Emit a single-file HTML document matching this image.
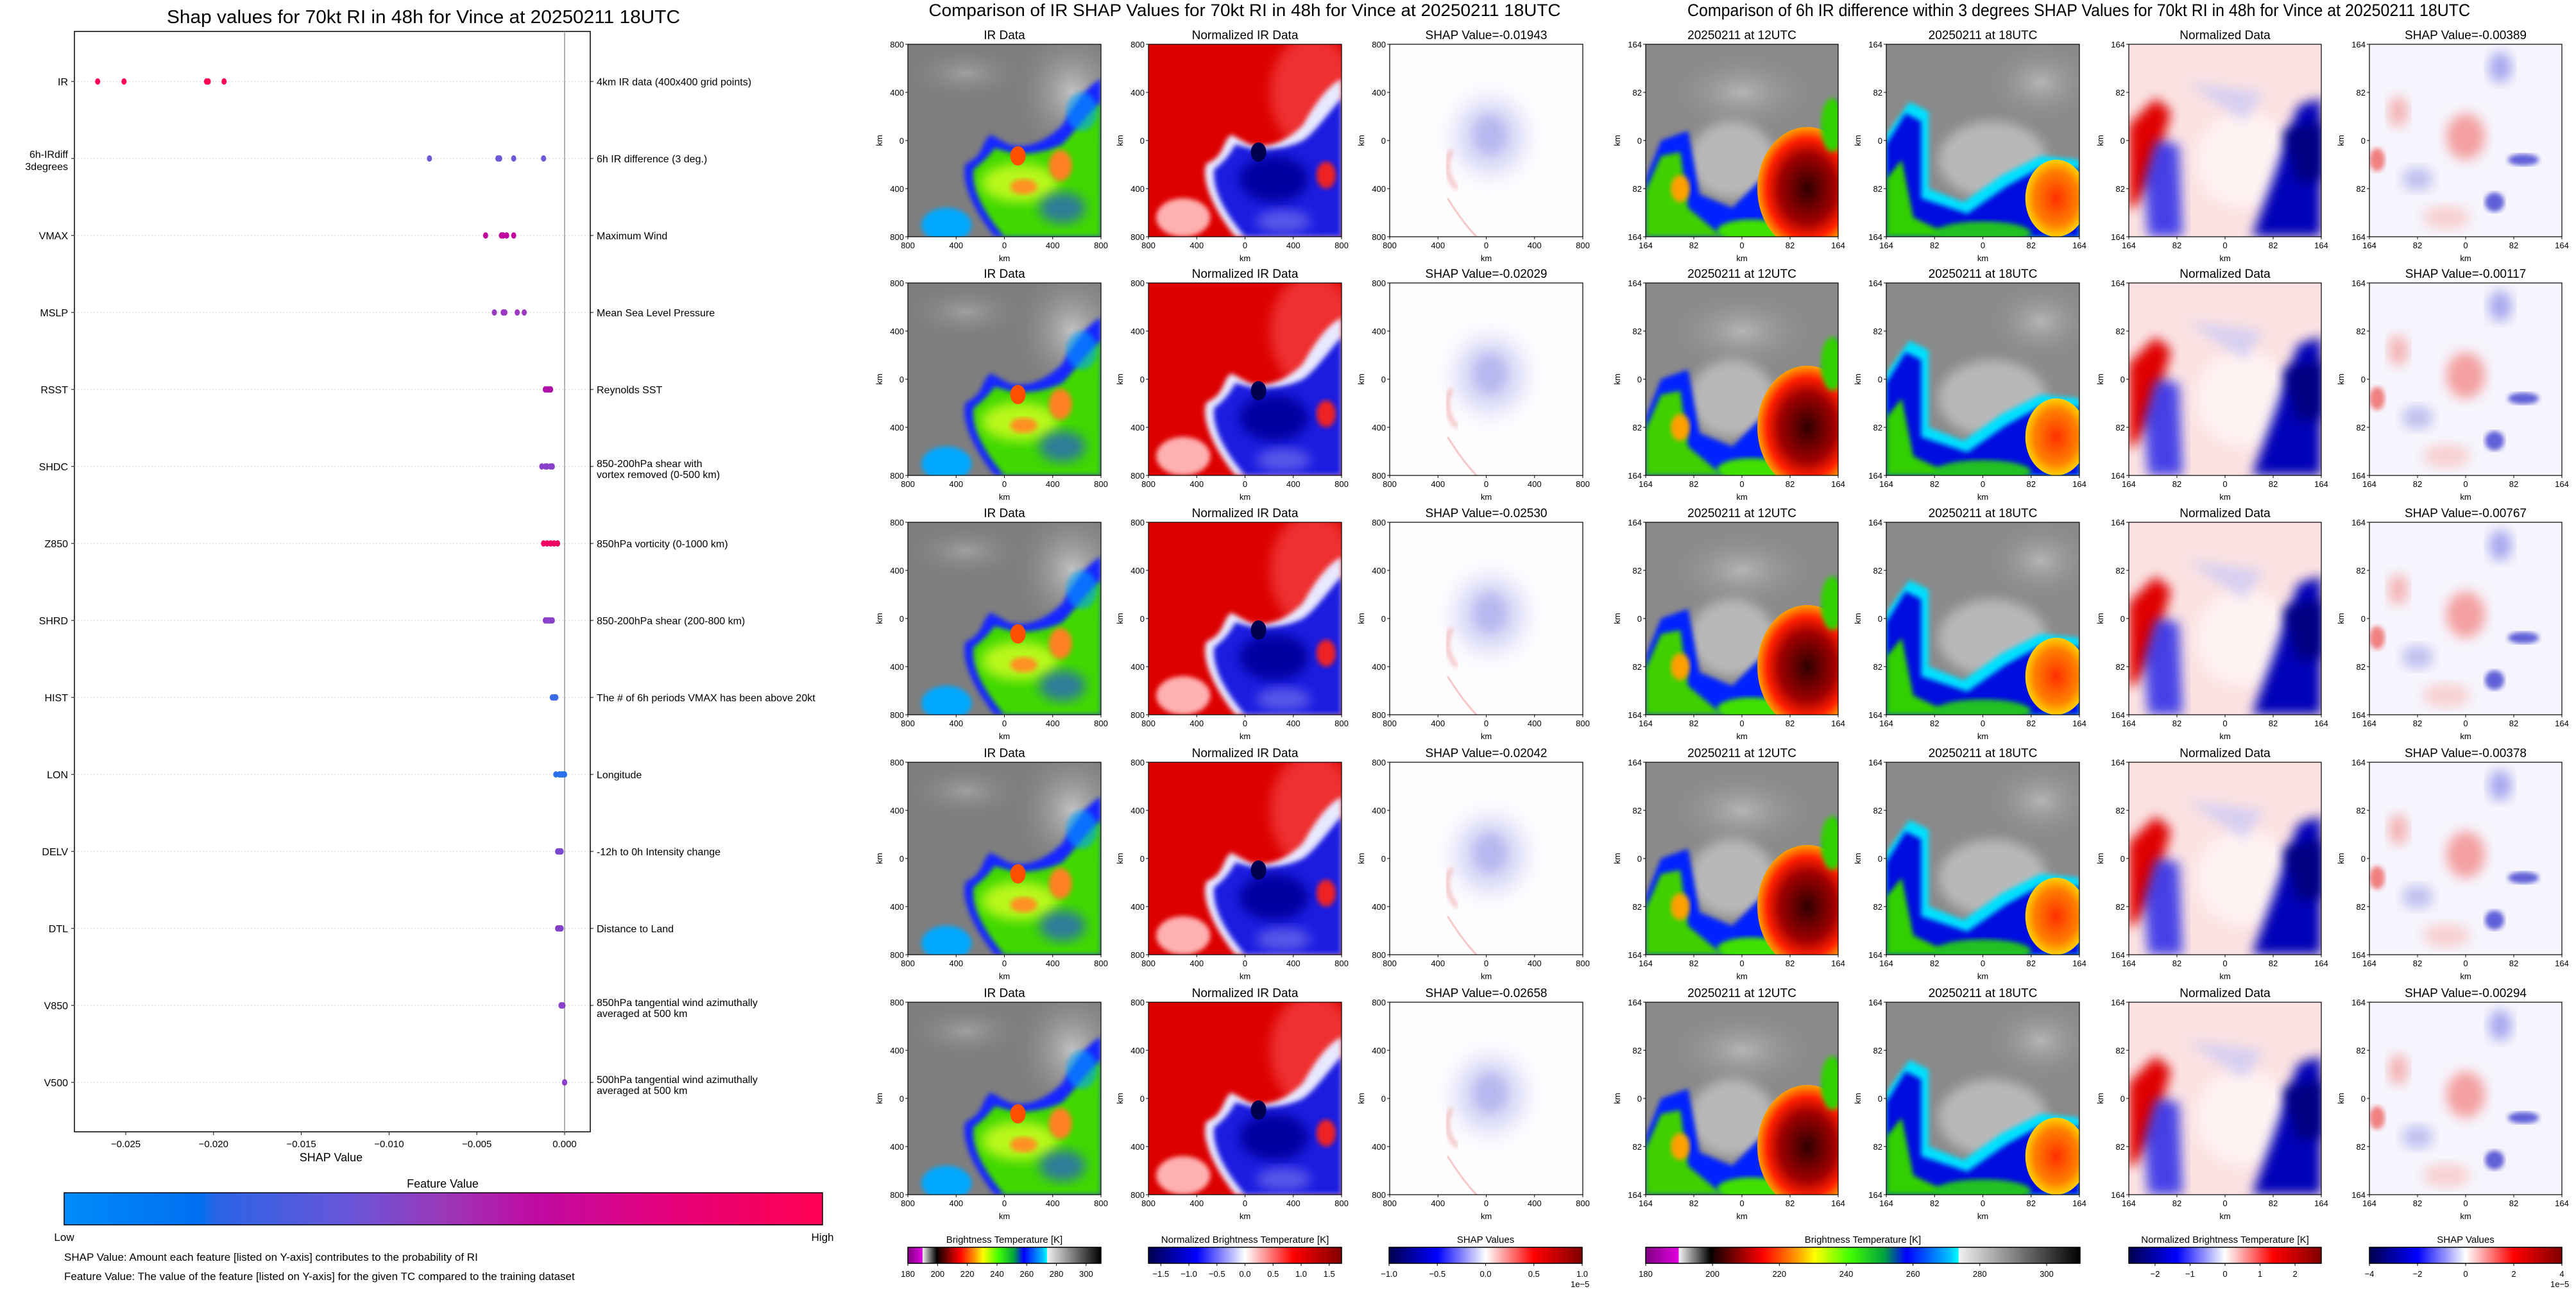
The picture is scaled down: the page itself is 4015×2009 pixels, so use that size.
<!DOCTYPE html>
<html><head><meta charset="utf-8"><style>
html,body{margin:0;padding:0;background:#fff;}
svg{display:block;font-family:"Liberation Sans",sans-serif;}
</style></head><body>
<svg id="fig" width="4015" height="2009" viewBox="0 0 4015 2009" xmlns="http://www.w3.org/2000/svg">
<defs>
<filter id="blur2" x="-10%" y="-10%" width="120%" height="120%"><feGaussianBlur stdDeviation="1.2"/></filter>
<filter id="blur4" x="-20%" y="-20%" width="140%" height="140%"><feGaussianBlur stdDeviation="3"/></filter>
<linearGradient id="featGrad" x1="0" x2="1" y1="0" y2="0">
<stop offset="0" stop-color="#008bfb"/><stop offset="0.18" stop-color="#006ff0"/><stop offset="0.2" stop-color="#2a64e6"/>
<stop offset="0.38" stop-color="#6a55d8"/><stop offset="0.5" stop-color="#9a38b8"/><stop offset="0.62" stop-color="#bf0aa2"/>
<stop offset="0.8" stop-color="#e5007a"/><stop offset="1" stop-color="#ff0052"/></linearGradient>
<linearGradient id="btGrad" x1="0" x2="1" y1="0" y2="0">
<stop offset="0" stop-color="#800080"/><stop offset="0.075" stop-color="#e000e0"/><stop offset="0.077" stop-color="#f0f0f0"/>
<stop offset="0.15" stop-color="#000"/><stop offset="0.16" stop-color="#200000"/><stop offset="0.27" stop-color="#ff0000"/>
<stop offset="0.35" stop-color="#ffa000"/><stop offset="0.39" stop-color="#ffff00"/><stop offset="0.47" stop-color="#40ff00"/>
<stop offset="0.55" stop-color="#00a040"/><stop offset="0.6" stop-color="#0000ff"/><stop offset="0.7" stop-color="#00c0ff"/>
<stop offset="0.72" stop-color="#00ffff"/><stop offset="0.721" stop-color="#f0f0f0"/><stop offset="1" stop-color="#000"/></linearGradient>
<linearGradient id="seisGrad" x1="0" x2="1" y1="0" y2="0">
<stop offset="0" stop-color="#00004c"/><stop offset="0.25" stop-color="#0000ff"/><stop offset="0.5" stop-color="#ffffff"/>
<stop offset="0.75" stop-color="#ff0000"/><stop offset="1" stop-color="#800000"/></linearGradient>
<radialGradient id="shapBlue"><stop offset="0" stop-color="#a8a8ee"/><stop offset="0.5" stop-color="#d6d6f6"/><stop offset="1" stop-color="#ffffff" stop-opacity="0"/></radialGradient>
<radialGradient id="darkRed"><stop offset="0" stop-color="#300000"/><stop offset="0.55" stop-color="#a00000"/><stop offset="0.8" stop-color="#ff2000"/><stop offset="1" stop-color="#ffa000"/></radialGradient>
<radialGradient id="orangeBlob"><stop offset="0" stop-color="#ff3000"/><stop offset="0.7" stop-color="#ff8000"/><stop offset="1" stop-color="#ffd000"/></radialGradient>
<radialGradient id="lightGray"><stop offset="0" stop-color="#e0e0e0"/><stop offset="1" stop-color="#8a8a8a" stop-opacity="0"/></radialGradient>

<symbol id="symIR" viewBox="0 0 100 100" preserveAspectRatio="none">
<rect width="100" height="100" fill="#7e7e7e"/>
<ellipse cx="85" cy="25" rx="30" ry="35" fill="url(#lightGray)" opacity="0.7"/>
<ellipse cx="30" cy="15" rx="30" ry="14" fill="url(#lightGray)" opacity="0.35"/>
<path d="M43,47 C38,50 40,58 30,62 C27,70 33,85 45,100 L100,100 L100,18 C92,22 85,33 80,42 C72,50 62,55 52,52 Z" fill="#1428ff" filter="url(#blur2)"/>
<path d="M45,54 C42,58 38,62 34,65 C33,74 38,86 50,100 L100,100 L100,30 C93,36 86,46 80,52 C72,56 60,58 52,56 Z" fill="#40d800" filter="url(#blur2)"/>
<ellipse cx="58" cy="72" rx="20" ry="10" fill="#d8ff20" opacity="0.8" filter="url(#blur4)"/>
<ellipse cx="57" cy="58" rx="4" ry="5" fill="#ff5000"/>
<ellipse cx="79" cy="63" rx="6" ry="8" fill="#ff8020" filter="url(#blur2)"/>
<ellipse cx="60" cy="74" rx="7" ry="4" fill="#ff9020" filter="url(#blur2)"/>
<ellipse cx="80" cy="85" rx="12" ry="8" fill="#2040ff" opacity="0.6" filter="url(#blur4)"/>
<ellipse cx="20" cy="94" rx="13" ry="9" fill="#00a8ff" filter="url(#blur2)"/>
<ellipse cx="90" cy="35" rx="8" ry="10" fill="#00a0ff" opacity="0.6" filter="url(#blur2)"/>
</symbol>
<symbol id="symNorm" viewBox="0 0 100 100" preserveAspectRatio="none">
<rect width="100" height="100" fill="#dd0000"/>
<ellipse cx="85" cy="25" rx="22" ry="30" fill="#ff6060" opacity="0.5" filter="url(#blur4)"/>
<ellipse cx="18" cy="90" rx="14" ry="10" fill="#ffb0b0" filter="url(#blur2)"/>
<path d="M43,47 C38,50 40,58 30,62 C27,70 33,85 45,100 L100,100 L100,18 C92,22 85,33 80,42 C72,50 62,55 52,52 Z" fill="#e8e8ff" filter="url(#blur2)"/>
<path d="M45,52 C42,58 38,62 34,65 C33,74 38,86 50,100 L100,100 L100,28 C93,36 86,46 80,50 C72,54 60,56 52,54 Z" fill="#1a1ae0" filter="url(#blur2)"/>
<ellipse cx="65" cy="70" rx="18" ry="12" fill="#0000a0" filter="url(#blur4)"/>
<ellipse cx="57" cy="56" rx="4" ry="5" fill="#000050"/>
<ellipse cx="92" cy="68" rx="5" ry="7" fill="#ee2020" filter="url(#blur2)"/>
<ellipse cx="70" cy="92" rx="14" ry="6" fill="#8080f0" opacity="0.6" filter="url(#blur4)"/>
</symbol>
<symbol id="symShap" viewBox="0 0 100 100" preserveAspectRatio="none">
<rect width="100" height="100" fill="#fdfcff"/>
<ellipse cx="52" cy="48" rx="30" ry="32" fill="url(#shapBlue)" opacity="0.7"/>
<ellipse cx="52" cy="47" rx="8" ry="10" fill="#b8b8f0" filter="url(#blur4)"/>
<path d="M32,55 C28,62 30,70 35,75" stroke="#f0a0a0" stroke-width="1.5" fill="none" filter="url(#blur2)"/>
<path d="M30,80 C35,88 40,95 45,100" stroke="#f8c8c8" stroke-width="1" fill="none"/>
</symbol>
<symbol id="sym12" viewBox="0 0 100 100" preserveAspectRatio="none">
<rect width="100" height="100" fill="#8a8a8a"/>
<ellipse cx="50" cy="25" rx="40" ry="22" fill="url(#lightGray)" opacity="0.5"/>
<ellipse cx="45" cy="60" rx="22" ry="20" fill="#d8d8d8" opacity="0.6" filter="url(#blur4)"/>
<path d="M0,70 L8,50 L22,45 L28,78 L45,85 L60,70 L88,55 L100,28 L100,100 L0,100 Z" fill="#0020ff" filter="url(#blur2)"/>
<path d="M0,76 L8,58 L18,56 L22,85 L40,100 L0,100 Z" fill="#40d000" filter="url(#blur2)"/>
<ellipse cx="18" cy="75" rx="5" ry="7" fill="#ffa000" filter="url(#blur2)"/>
<ellipse cx="55" cy="97" rx="18" ry="6" fill="#40e000" filter="url(#blur2)"/>
<ellipse cx="84" cy="75" rx="26" ry="32" fill="url(#darkRed)"/>
<ellipse cx="97" cy="42" rx="6" ry="14" fill="#30d000" filter="url(#blur2)"/>
</symbol>
<symbol id="sym18" viewBox="0 0 100 100" preserveAspectRatio="none">
<rect width="100" height="100" fill="#8a8a8a"/>
<ellipse cx="80" cy="20" rx="30" ry="22" fill="url(#lightGray)" opacity="0.5"/>
<ellipse cx="55" cy="60" rx="28" ry="20" fill="#d8d8d8" opacity="0.6" filter="url(#blur4)"/>
<path d="M0,47 L12,30 L22,35 L22,75 L40,82 L60,68 L80,58 L100,60 L100,100 L0,100 Z" fill="#00e0ff" filter="url(#blur2)"/>
<path d="M0,52 L10,36 L18,40 L18,80 L42,88 L62,74 L80,64 L100,65 L100,100 L0,100 Z" fill="#0010e0" filter="url(#blur2)"/>
<path d="M0,70 L8,60 L14,90 L35,100 L0,100 Z" fill="#30d000" filter="url(#blur2)"/>
<ellipse cx="50" cy="98" rx="25" ry="6" fill="#20c020" filter="url(#blur2)"/>
<ellipse cx="88" cy="80" rx="16" ry="20" fill="url(#orangeBlob)"/>
</symbol>
<symbol id="symNormR" viewBox="0 0 100 100" preserveAspectRatio="none">
<rect width="100" height="100" fill="#fbe2e2"/>
<ellipse cx="60" cy="60" rx="25" ry="25" fill="#fff2f2" filter="url(#blur4)"/>
<path d="M0,42 L14,28 L22,35 L12,70 L3,85 L0,85 Z" fill="#e00000" filter="url(#blur4)"/>
<path d="M14,50 L26,52 L28,100 L10,100 L8,70 Z" fill="#2828e8" opacity="0.85" filter="url(#blur4)"/>
<path d="M100,28 L88,32 L75,70 L64,100 L100,100 Z" fill="#0000b8" filter="url(#blur4)"/>
<path d="M80,45 L100,40 L100,70 L88,72 Z" fill="#000080" filter="url(#blur4)"/>
<path d="M30,20 L70,25 L60,40 Z" fill="#c8c8f8" opacity="0.7" filter="url(#blur4)"/>
</symbol>
<symbol id="symShapR" viewBox="0 0 100 100" preserveAspectRatio="none">
<rect width="100" height="100" fill="#f6f4fc"/>
<ellipse cx="50" cy="48" rx="10" ry="12" fill="#f4a0a0" filter="url(#blur4)"/>
<ellipse cx="68" cy="12" rx="6" ry="8" fill="#a8a8ee" filter="url(#blur4)"/>
<ellipse cx="80" cy="60" rx="8" ry="3" fill="#6060d8" filter="url(#blur2)"/>
<ellipse cx="65" cy="82" rx="5" ry="5" fill="#6060d8" filter="url(#blur2)"/>
<ellipse cx="15" cy="35" rx="5" ry="8" fill="#f4b4b4" filter="url(#blur4)"/>
<ellipse cx="4" cy="60" rx="4" ry="6" fill="#f08080" filter="url(#blur2)"/>
<ellipse cx="25" cy="70" rx="8" ry="6" fill="#c0c0f0" filter="url(#blur4)"/>
<ellipse cx="40" cy="90" rx="12" ry="6" fill="#f8d0d0" filter="url(#blur4)"/>
</symbol>
</defs>
<g id="left"></g>
<g id="right"></g>
</svg>
<script>
// ---- data for SHAP summary chart ----
const features = ["IR","6h-IRdiff\n3degrees","VMAX","MSLP","RSST","SHDC","Z850","SHRD","HIST","LON","DELV","DTL","V850","V500"];
const descriptions = ["4km IR data (400x400 grid points)","6h IR difference (3 deg.)","Maximum Wind","Mean Sea Level Pressure","Reynolds SST","850-200hPa shear with\nvortex removed (0-500 km)","850hPa vorticity (0-1000 km)","850-200hPa shear (200-800 km)","The # of 6h periods VMAX has been above 20kt","Longitude","-12h to 0h Intensity change","Distance to Land","850hPa tangential wind azimuthally\naveraged at 500 km","500hPa tangential wind azimuthally\naveraged at 500 km"];
const shapIR = [-0.0266,-0.0251,-0.0204,-0.0203,-0.0194];
const shapIRdiff = [-0.0077,-0.0038,-0.0037,-0.0029,-0.0012];
const shapVMAX = [-0.0045,-0.0036,-0.0035,-0.0033,-0.0029];
const shapMSLP = [-0.0040,-0.0035,-0.0034,-0.0027,-0.0023];
const shapRSST = [-0.0011,-0.0010,-0.0009,-0.0008,-0.0008];
const shapSHDC = [-0.0013,-0.0011,-0.0010,-0.0008,-0.0007];
const shapZ850 = [-0.0012,-0.0010,-0.0008,-0.0006,-0.0004];
const shapSHRD = [-0.0011,-0.0010,-0.0009,-0.0008,-0.0007];
const shapHIST = [-0.0007,-0.0006,-0.0006,-0.0005,-0.0005];
const shapLON = [-0.0005,-0.0003,-0.0002,-0.0001,0.0000];
const shapDELV = [-0.0004,-0.0003,-0.0003,-0.0002,-0.0002];
const shapDTL = [-0.0004,-0.0003,-0.0003,-0.0002,-0.0002];
const shapV850 = [-0.0002,-0.0002,-0.0002,-0.0001,-0.0001];
const shapV500 = [0.0000,0.0000,0.0000,0.0000,0.0000];
const featureColors = ["#ff0052","#6a5ad8","#c0089e","#9a3ac0","#b010a8","#8a40c8","#f00062","#8a40c8","#3a6ce8","#2a70ec","#7a48d0","#8040c8","#8a40c8","#8a40c8"];
const xTicks = [-0.025,-0.020,-0.015,-0.010,-0.005,0.000];
const xTickLabels = ["\u22120.025","\u22120.020","\u22120.015","\u22120.010","\u22120.005","0.000"];
// ---- data for image panels ----
const leftShapVals = ["-0.01943","-0.02029","-0.02530","-0.02042","-0.02658"];
const rightShapVals = ["-0.00389","-0.00117","-0.00767","-0.00378","-0.00294"];
const kmTicksLeft = ["800","400","0","400","800"];
const kmTicksRight = ["164","82","0","82","164"];
const btTicks = [180,200,220,240,260,280,300];
const normTicksL = [-1.5,-1.0,-0.5,0.0,0.5,1.0,1.5];
const shapTicksL = [-1.0,-0.5,0.0,0.5,1.0];
const normTicksR = [-2,-1,0,1,2];
const shapTicksR = [-4,-2,0,2,4];

const NS = "http://www.w3.org/2000/svg";
function mk(parent, tag, attrs, txt){
  const e = document.createElementNS(NS, tag);
  for (const k in attrs) e.setAttribute(k, attrs[k]);
  if (txt !== undefined) e.textContent = txt;
  parent.appendChild(e);
  return e;
}
const shapSeries = [shapIR,shapIRdiff,shapVMAX,shapMSLP,shapRSST,shapSHDC,shapZ850,shapSHRD,shapHIST,shapLON,shapDELV,shapDTL,shapV850,shapV500];

// ---------- left chart ----------
(function(){
  const L = document.getElementById('left');
  const ax = {x0:116, x1:920, y0:49, y1:1764};
  const xScale = v => 880 + v * 27360;
  const yScale = i => 127 + i * 120;
  let t = mk(L,'text',{x:660,y:36,'text-anchor':'middle','font-size':29,textLength:800,lengthAdjust:'spacingAndGlyphs'},'Shap values for 70kt RI in 48h for Vince at 20250211 18UTC');
  
  
  let fr = mk(L,'rect',{x:ax.x0,y:ax.y0,width:ax.x1-ax.x0,height:ax.y1-ax.y0,fill:'none',stroke:'#000','stroke-width':1.5});
  
  
  let zl = mk(L,'line',{x1:xScale(0),x2:xScale(0),y1:ax.y0,y2:ax.y1,stroke:'#999','stroke-width':1.5});
  
  
  features.forEach((f,i)=>{
    const y = yScale(i);
    const g = mk(L,'line',{x1:ax.x0,x2:ax.x1,y1:y,y2:y,stroke:'#ccc','stroke-width':1,'stroke-dasharray':'2,3'});
    
    
    mk(L,'line',{x1:ax.x0-5,x2:ax.x0,y1:y,y2:y,stroke:'#000'});
    mk(L,'line',{x1:ax.x1,x2:ax.x1+5,y1:y,y2:y,stroke:'#000'});
    const lines = f.split('\n');
    lines.forEach((ln,j)=>{
      const yy = lines.length>1 ? (j===0 ? y-1 : y+18) : y + 6;
      const lt = mk(L,'text',{x:ax.x0-10,y:yy,'text-anchor':'end','font-size':16},ln);
      
      
    });
    const dl = descriptions[i].split('\n');
    dl.forEach((ln,j)=>{
      const yy = dl.length>1 ? y + 1 + j*17 : y + 6;
      const dt = mk(L,'text',{x:930,y:yy,'font-size':16},ln);
      
      
    });
    shapSeries[i].forEach(v=>{
      const d = mk(L,'ellipse',{cx:xScale(v),cy:y,rx:4,ry:5,fill:featureColors[i]});
      
      
    });
  });
  xTicks.forEach((v,k)=>{
    const x = xScale(v);
    mk(L,'line',{x1:x,x2:x,y1:ax.y1,y2:ax.y1+5,stroke:'#000'});
    const tt = mk(L,'text',{x:x,y:1788,'text-anchor':'middle','font-size':15},xTickLabels[k]);
    
    
  });
  let xl = mk(L,'text',{x:516,y:1810,'text-anchor':'middle','font-size':18},'SHAP Value');
  
  
  let ft = mk(L,'text',{x:690,y:1851,'text-anchor':'middle','font-size':18},'Feature Value');
  
  
  let cb = mk(L,'rect',{x:100,y:1859,width:1182,height:50,fill:'url(#featGrad)',stroke:'#000','stroke-width':1.5});
  
  
  let lo = mk(L,'text',{x:100,y:1934,'text-anchor':'middle','font-size':17},'Low');
  
  
  let hi = mk(L,'text',{x:1282,y:1934,'text-anchor':'middle','font-size':17},'High');
  
  
  let n1 = mk(L,'text',{x:100,y:1965,'font-size':17},'SHAP Value: Amount each feature [listed on Y-axis] contributes to the probability of RI');
  
  
  let n2 = mk(L,'text',{x:100,y:1995,'font-size':17},'Feature Value: The value of the feature [listed on Y-axis] for the given TC compared to the training dataset');
  
  
})();

// ---------- image panels ----------
(function(){
  const R = document.getElementById('right');
  const rowTops = [69,441,814,1188,1562];
  const H = 300;
  const cols = [
    {x:1415,w:301,sym:'symIR',title:()=> 'IR Data',ticks:kmTicksLeft},
    {x:1790,w:301,sym:'symNorm',title:()=> 'Normalized IR Data',ticks:kmTicksLeft},
    {x:2166,w:301,sym:'symShap',title:r=> 'SHAP Value='+leftShapVals[r],ticks:kmTicksLeft},
    {x:2565,w:300,sym:'sym12',title:()=> '20250211 at 12UTC',ticks:kmTicksRight},
    {x:2940,w:301,sym:'sym18',title:()=> '20250211 at 18UTC',ticks:kmTicksRight},
    {x:3318,w:300,sym:'symNormR',title:()=> 'Normalized Data',ticks:kmTicksRight},
    {x:3693,w:300,sym:'symShapR',title:r=> 'SHAP Value='+rightShapVals[r],ticks:kmTicksRight}
  ];
  let t1 = mk(R,'text',{x:1940,y:25,'text-anchor':'middle','font-size':27,textLength:985,lengthAdjust:'spacingAndGlyphs'},'Comparison of IR SHAP Values for 70kt RI in 48h for Vince at 20250211 18UTC');
  
  
  let t2 = mk(R,'text',{x:3240,y:25,'text-anchor':'middle','font-size':27,textLength:1220,lengthAdjust:'spacingAndGlyphs'},'Comparison of 6h IR difference within 3 degrees SHAP Values for 70kt RI in 48h for Vince at 20250211 18UTC');
  
  
  rowTops.forEach((top,r)=>{
    cols.forEach((c)=>{
      const u = mk(R,'use',{href:'#'+c.sym,x:c.x,y:top,width:c.w,height:H});
      
      
      const fr = mk(R,'rect',{x:c.x,y:top,width:c.w,height:H,fill:'none',stroke:'#000','stroke-width':1.2});
      
      
      const st = mk(R,'text',{x:c.x+c.w/2,y:top-8,'text-anchor':'middle','font-size':19},c.title(r));
      
      
      c.ticks.forEach((lab,k)=>{
        const yy = top + k*H/4;
        mk(R,'line',{x1:c.x-4,x2:c.x,y1:yy,y2:yy,stroke:'#000'});
        const yt = mk(R,'text',{x:c.x-6,y:yy+5,'text-anchor':'end','font-size':13},lab);
        
        
        const xx = c.x + k*c.w/4;
        mk(R,'line',{x1:xx,x2:xx,y1:top+H,y2:top+H+4,stroke:'#000'});
        const xt = mk(R,'text',{x:xx,y:top+H+18,'text-anchor':'middle','font-size':13},lab);
        
        
      });
      const kx = mk(R,'text',{x:c.x+c.w/2,y:top+H+38,'text-anchor':'middle','font-size':13},'km');
      
      
      const ky = mk(R,'text',{x:0,y:0,'text-anchor':'middle','font-size':13,transform:'translate('+(c.x-40)+','+(top+H/2)+') rotate(-90)'},'km');
      
      
    });
  });
  // colorbars
  const bars = [
    {x:1415,w:301,fill:'url(#btGrad)',title:'Brightness Temperature [K]',ticks:btTicks,min:180,max:310,fmt:v=>String(v)},
    {x:1790,w:301,fill:'url(#seisGrad)',title:'Normalized Brightness Temperature [K]',ticks:normTicksL,min:-1.72,max:1.72,fmt:v=>(v<0?'\u2212':'')+Math.abs(v).toFixed(1)},
    {x:2165,w:301,fill:'url(#seisGrad)',title:'SHAP Values',ticks:shapTicksL,min:-1,max:1,fmt:v=>(v<0?'\u2212':'')+Math.abs(v).toFixed(1),exp:true},
    {x:2565,w:677,fill:'url(#btGrad)',title:'Brightness Temperature [K]',ticks:btTicks,min:180,max:310,fmt:v=>String(v)},
    {x:3318,w:300,fill:'url(#seisGrad)',title:'Normalized Brightness Temperature [K]',ticks:normTicksR,min:-2.75,max:2.75,fmt:v=>(v<0?'\u2212':'')+Math.abs(v)},
    {x:3693,w:300,fill:'url(#seisGrad)',title:'SHAP Values',ticks:shapTicksR,min:-4,max:4,fmt:v=>(v<0?'\u2212':'')+Math.abs(v),exp:true}
  ];
  bars.forEach(b=>{
    const tt = mk(R,'text',{x:b.x+b.w/2,y:1937,'text-anchor':'middle','font-size':15},b.title);
    
    
    const rc = mk(R,'rect',{x:b.x,y:1944,width:b.w,height:25,fill:b.fill,stroke:'#000','stroke-width':1.5});
    
    
    b.ticks.forEach(v=>{
      const x = b.x + (v-b.min)/(b.max-b.min)*b.w;
      mk(R,'line',{x1:x,x2:x,y1:1969,y2:1973,stroke:'#000'});
      const lt = mk(R,'text',{x:x,y:1990,'text-anchor':'middle','font-size':13},b.fmt(v));
      
      
    });
    if (b.exp){
      const ex = mk(R,'text',{x:b.x+b.w-18,y:2006,'font-size':13},'1e\u22125');
      
      
    }
  });
})();
</script>
</body></html>
